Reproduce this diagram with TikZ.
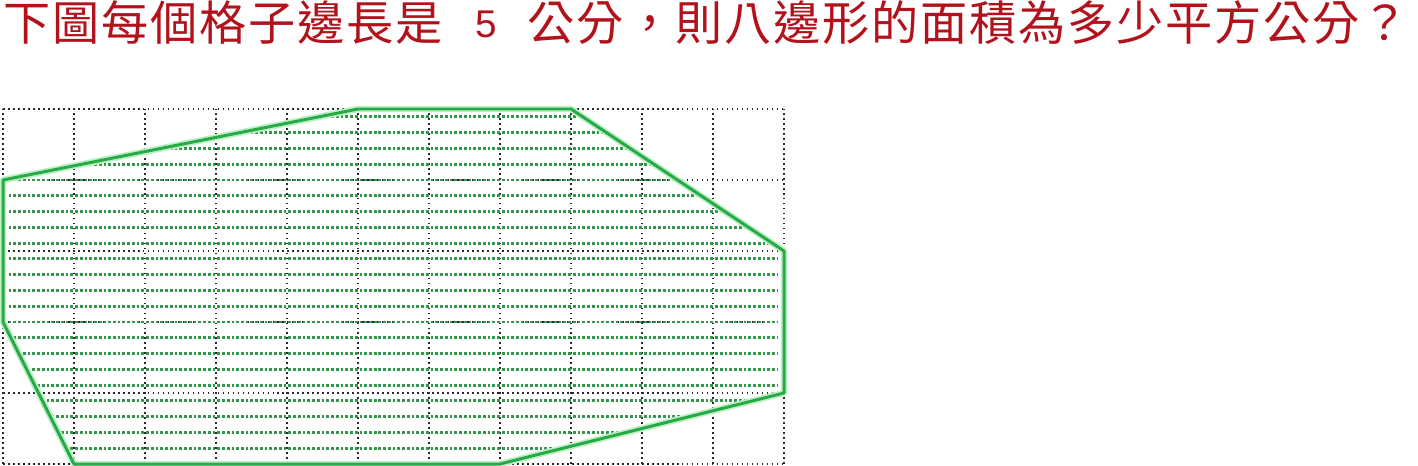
\documentclass[tikz,border=0pt]{standalone}
\usepackage{fontspec}
\newfontfamily\cjk[LetterSpace=4]{Noto Sans CJK TC}
\newfontfamily\lat{Liberation Sans}
\definecolor{titlered}{RGB}{178,18,28}
\definecolor{polygreen}{RGB}{40,170,70}
\definecolor{halogreen}{RGB}{190,240,200}
\definecolor{hatchgreen}{RGB}{55,150,75}
\definecolor{griddark}{RGB}{40,40,50}
\tikzset{
  gridline/.style={griddark, line width=0.7pt, dash pattern=on 0.7pt off 1.3pt},
  hatchline/.style={hatchgreen, line width=1.2pt, dash pattern=on 1.1pt off 0.8pt},
  polyhalo/.style={halogreen, line width=2.6pt, line join=round},
  polyline/.style={polygreen, line width=1.2pt, line join=round},
  titletext/.style={inner sep=0pt, outer sep=0pt, text=titlered, anchor=base west}
}
\begin{document}
\begin{tikzpicture}[x=1cm,y=1cm]
\useasboundingbox (-0.0423,-0.0141) rectangle (19.9296,6.5352);
% title
\node[titletext, font=\cjk\fontsize{18.9pt}{20pt}\selectfont] (t1) at (0.0,5.958) {下圖每個格子邊長是};
\node[titletext, font=\lat\fontsize{15.5pt}{17pt}\selectfont] (t2) at (6.650,6.0) {5};
\node[titletext, font=\cjk\fontsize{18.9pt}{20pt}\selectfont] (t3) at (7.394,5.958) {公分，則八邊形的面積為多少平方公分？};
% grid
\draw[gridline] (0,0) grid (11,5);
% polygon vertices
\coordinate (A) at (5,5);
\coordinate (B) at (8,5);
\coordinate (C) at (11,3);
\coordinate (D) at (11,1);
\coordinate (E) at (7,0);
\coordinate (F) at (1,0);
\coordinate (G) at (0,2);
\coordinate (H) at (0,4);
% hatching
\begin{scope}
\clip (A)--(B)--(C)--(D)--(E)--(F)--(G)--(H)--cycle;
\foreach \k in {1,...,22}
  \draw[hatchline] (0.08,{2*\k/9}) -- (10.92,{2*\k/9});
\end{scope}
% outline
\draw[polyhalo] (A)--(B)--(C)--(D)--(E)--(F)--(G)--(H)--cycle;
\draw[polyline] (A)--(B)--(C)--(D)--(E)--(F)--(G)--(H)--cycle;
\end{tikzpicture}
\end{document}
